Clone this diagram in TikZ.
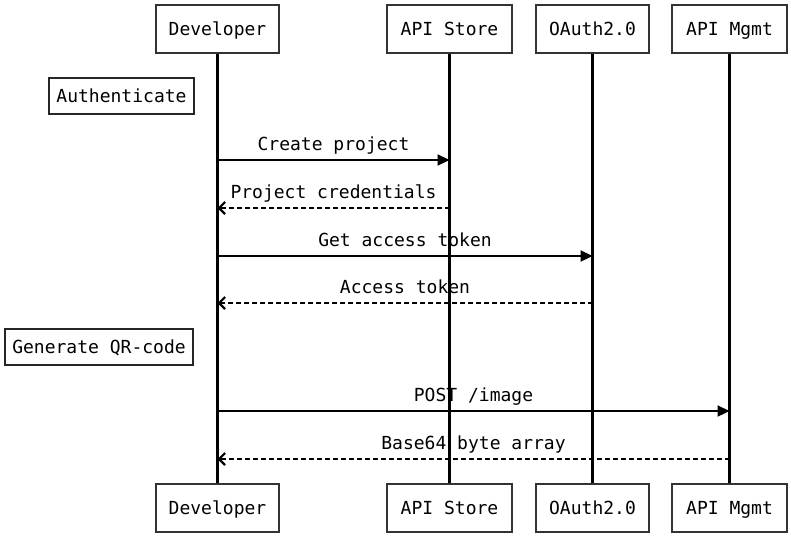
\documentclass[tikz,border=0pt]{standalone}
\usepackage{fontspec}
\setmonofont{DejaVu Sans Mono}
\usetikzlibrary{arrows.meta}
\begin{document}
\begin{tikzpicture}[x=1pt,y=-1pt,
  every node/.style={font=\ttfamily\fontsize{18}{21}\selectfont},
  actor/.style={draw=black!80, line width=2.2pt, fill=white, minimum height=48pt, inner sep=0pt, text height=13pt, text depth=0pt},
  section/.style={draw=black!85, line width=2.2pt, fill=white, minimum height=36pt, inner sep=0pt, text height=13pt, text depth=0pt},
  life/.style={line width=2.2pt, black},
  msg/.style={line width=2.2pt, -{Triangle[length=12pt,width=11pt]}},
  reply/.style={line width=2.2pt, dash pattern=on 5pt off 3pt, -{Straight Barb[length=6pt,width=12pt,line width=2.2pt]}},
  lbl/.style={anchor=south, inner sep=0pt, text height=13pt, text depth=4pt, yshift=4pt}
]
\useasboundingbox (0,0) rectangle (791,539);
% actors top
\node[actor, minimum width=123pt] (dev) at (217.5,29) {Developer};
\node[actor, minimum width=125pt] (store) at (449.5,29) {API Store};
\node[actor, minimum width=113pt] (oauth) at (592.5,29) {OAuth2.0};
\node[actor, minimum width=115pt] (mgmt) at (729.5,29) {API Mgmt};
% actors bottom
\node[actor, minimum width=123pt] (devb) at (217.5,508) {Developer};
\node[actor, minimum width=125pt] (storeb) at (449.5,508) {API Store};
\node[actor, minimum width=113pt] (oauthb) at (592.5,508) {OAuth2.0};
\node[actor, minimum width=115pt] (mgmtb) at (729.5,508) {API Mgmt};
% lifelines
\draw[life] (dev) -- (devb);
\draw[life] (store) -- (storeb);
\draw[life] (oauth) -- (oauthb);
\draw[life] (mgmt) -- (mgmtb);
% sections
\node[section, minimum width=145pt] (auth) at (121.5,96) {Authenticate};
\node[section, minimum width=188pt] (qr) at (99,347) {Generate QR-code};
% message anchor points
\coordinate (d1) at (dev.center |- 0,160);  \coordinate (s1) at (store.center |- 0,160);
\coordinate (d2) at (dev.center |- 0,208);  \coordinate (s2) at (store.center |- 0,208);
\coordinate (d3) at (dev.center |- 0,256);  \coordinate (o3) at (oauth.center |- 0,256);
\coordinate (d4) at (dev.center |- 0,303);  \coordinate (o4) at (oauth.center |- 0,303);
\coordinate (d5) at (dev.center |- 0,411);  \coordinate (m5) at (mgmt.center |- 0,411);
\coordinate (d6) at (dev.center |- 0,459);  \coordinate (m6) at (mgmt.center |- 0,459);
% messages
\draw[msg] (d1) -- node[lbl] {Create project} (s1);
\draw[reply] (s2) -- node[lbl] {Project credentials} (d2);
\draw[msg] (d3) -- node[lbl] {Get access token} (o3);
\draw[reply] (o4) -- node[lbl] {Access token} (d4);
\draw[msg] (d5) -- node[lbl] {POST /image} (m5);
\draw[reply] (m6) -- node[lbl] {Base64 byte array} (d6);
\end{tikzpicture}
\end{document}
